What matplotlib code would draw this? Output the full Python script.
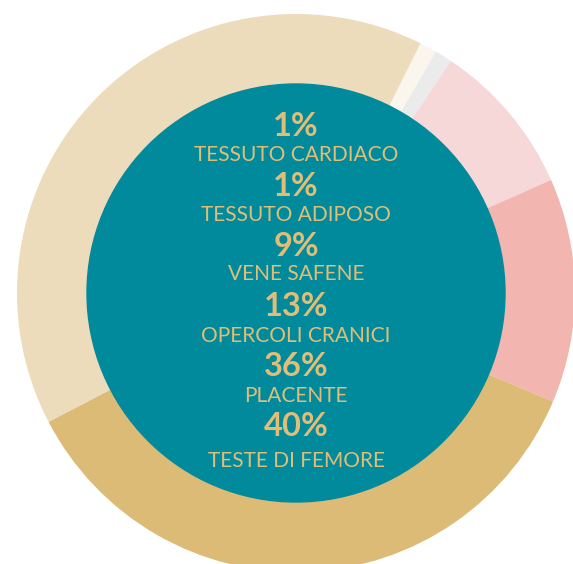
import matplotlib
matplotlib.use("Agg")
import matplotlib.pyplot as plt

# data, in clockwise order starting near the top
labels = ["TESSUTO CARDIACO", "TESSUTO ADIPOSO", "VENE SAFENE",
          "OPERCOLI CRANICI", "PLACENTE", "TESTE DI FEMORE"]
values = [1, 1, 9, 13, 36, 40]
colors = ["#FAF6EE", "#EBEBEB", "#F7D8D8", "#F2B5B0", "#DCBB76", "#EDDCBB"]

W, H = 573, 564
CX, CY = 296, H - 293      # ring centre in pixel units (y up)
R_OUT, R_IN = 279, 209
TEAL = "#018A9C"
GOLD = "#E0BE78"

# text rows (pixels from top)
pct_y = [126, 186, 246, 306, 366, 426]
lab_y = [155, 215, 274, 336, 396, 461]

fig = plt.figure(figsize=(W / 100, H / 100), dpi=100)
ax = fig.add_axes([0, 0, 1, 1])

ax.pie(values, colors=colors, startangle=63.5, counterclock=False,
       center=(CX, CY), radius=R_OUT,
       wedgeprops=dict(width=R_OUT - R_IN, linewidth=0))
ax.add_patch(plt.Circle((CX, CY), R_IN, color=TEAL, zorder=3))

# stacked labels in the hole: percentage then name
for lab, v, yp, yl in zip(labels, values, pct_y, lab_y):
    ax.text(CX, H - yp, f"{v}%", ha="center", va="center", color=GOLD,
            fontsize=23.5, fontweight="bold", family="Lato", zorder=4)
    ax.text(CX, H - yl, lab, ha="center", va="center", color=GOLD,
            fontsize=15, family="Lato", zorder=4)

ax.set_xlim(0, W)
ax.set_ylim(0, H)
ax.set_aspect("equal")
ax.axis("off")

fig.savefig("out.png", dpi=100)
